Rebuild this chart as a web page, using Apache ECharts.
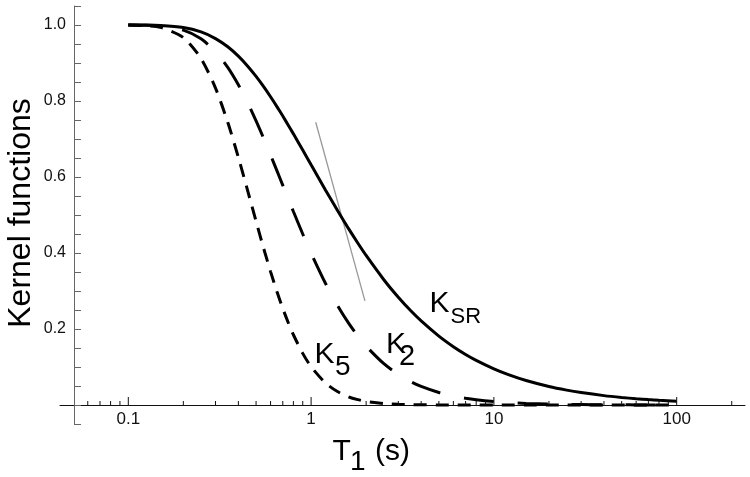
<!DOCTYPE html>
<html>
<head>
<meta charset="utf-8">
<script src="https://cdn.jsdelivr.net/npm/echarts@6/dist/echarts.min.js"></script>
<style>
html,body{margin:0;padding:0;background:#fff;}
#chart{width:750px;height:477px;}
</style>
</head>
<body>
<div id="chart"></div>
<script>
// ---- data ----
const T1 = [0.1,0.12,0.15,0.2,0.25,0.3,0.35,0.4,0.45,0.5,0.55,0.6,0.65,0.7,0.75,0.8,0.9,1,1.2,1.4,1.6,1.8,2,2.5,3,3.5,4,5,6,7,8,10,12,15,20,25,30,40,50,60,70,80,100];
const KSR = [1.0000,0.9998,0.9987,0.9933,0.9817,0.9643,0.9426,0.9179,0.8916,0.8647,0.8377,0.8111,0.7853,0.7604,0.7364,0.7135,0.6708,0.6321,0.5654,0.5105,0.4647,0.4263,0.3935,0.3297,0.2835,0.2485,0.2212,0.1813,0.1535,0.1331,0.1175,0.0952,0.0800,0.0645,0.0488,0.0392,0.0328,0.0247,0.0198,0.0165,0.0142,0.0124,0.0100];
const K2 = [1.0000,0.9995,0.9975,0.9866,0.9637,0.9299,0.8884,0.8426,0.7950,0.7476,0.7017,0.6579,0.6167,0.5781,0.5423,0.5091,0.4500,0.3996,0.3197,0.2606,0.2160,0.1817,0.1548,0.1087,0.0804,0.0618,0.0489,0.0329,0.0236,0.0177,0.0138,0.0091,0.0064,0.0042,0.0024,0.0015,0.0011,0.0006,0.0004,0.0003,0.0002,0.0002,0.0001];
const K5 = [1.0000,0.9988,0.9937,0.9668,0.9117,0.8339,0.7440,0.6517,0.5636,0.4833,0.4124,0.3511,0.2987,0.2541,0.2166,0.1849,0.1358,0.1009,0.0578,0.0347,0.0217,0.0141,0.0094,0.0039,0.0018,0.0010,0.0005,0.0002,0.0001,0,0,0,0,0,0,0,0,0,0,0,0,0,0];
const tangentT1 = [1.06, 1.97];
const tangentK = [0.744, 0.274];
const xMajorTicks = [0.1, 1, 10, 100];
const xTickLabels = ['0.1', '1', '10', '100'];
const xMinorTicks = [0.06,0.07,0.08,0.09,0.2,0.3,0.4,0.5,0.6,0.7,0.8,0.9,2,3,4,5,6,7,8,9,20,30,40,50,60,70,80,90,200];
const yTickValues = [0.2, 0.4, 0.6, 0.8, 1.0];
const yTickLabels = ['0.2', '0.4', '0.6', '0.8', '1.0'];

// ---- chart ----
const FONT = '"Liberation Sans", Arial, sans-serif';
const chart = echarts.init(document.getElementById('chart'), null, {renderer: 'canvas'});

function pairs(xs, ys) { return xs.map((x, i) => [x, ys[i]]); }

function tickSeries(values, len) {
  return {
    type: 'custom',
    silent: true,
    clip: false,
    z: 5,
    data: values.map(v => [v, 0]),
    renderItem: function (params, api) {
      const p = api.coord([api.value(0), 0]);
      return {
        type: 'line',
        shape: {x1: p[0], y1: p[1], x2: p[0], y2: p[1] - len},
        style: {stroke: '#111', lineWidth: 1}
      };
    }
  };
}

function txt(text, x, y, size, extra) {
  return Object.assign({
    type: 'text', x: x, y: y, silent: true,
    style: {text: text, font: size + 'px ' + FONT, fill: '#000', verticalAlign: 'middle', align: 'left'}
  }, extra || {});
}

const option = {
  animation: false,
  backgroundColor: '#fff',
  grid: {left: 60, right: 5, top: 6, bottom: 53, containLabel: false, outerBoundsMode: 'none'},
  xAxis: {
    type: 'log',
    logBase: 10,
    min: 0.0423,
    max: 236.4,
    axisLine: {onZero: true, lineStyle: {color: '#111', width: 1}},
    axisTick: {show: false},
    splitLine: {show: false},
    minorTick: {show: false},
    axisLabel: {
      margin: -13,
      fontSize: 17,
      fontFamily: FONT,
      color: '#111',
      formatter: function (v) {
        for (let i = 0; i < xMajorTicks.length; i++) {
          if (Math.abs(v - xMajorTicks[i]) / xMajorTicks[i] < 1e-6) return xTickLabels[i];
        }
        return '';
      }
    }
  },
  yAxis: {
    type: 'value',
    min: -0.05,
    max: 1.05,
    interval: 0.05,
    offset: -14,
    axisLine: {onZero: false, lineStyle: {color: '#666', width: 1}},
    axisTick: {show: true, inside: true, length: 7, lineStyle: {color: '#666', width: 1}},
    splitLine: {show: false},
    axisLabel: {
      margin: 8,
      fontSize: 16,
      fontFamily: FONT,
      color: '#111',
      formatter: function (v) {
        for (let i = 0; i < yTickValues.length; i++) {
          if (Math.abs(v - yTickValues[i]) < 1e-6) return yTickLabels[i];
        }
        return '';
      }
    }
  },
  series: [
    {
      type: 'line', name: 'KSR', data: pairs(T1, KSR), showSymbol: false, smooth: 0.25,
      lineStyle: {color: '#000', width: 3, type: 'solid'}, z: 3
    },
    {
      type: 'line', name: 'K2', data: pairs(T1, K2), showSymbol: false, smooth: 0.25,
      lineStyle: {color: '#000', width: 3, type: [30, 24], cap: 'butt'}, z: 3
    },
    {
      type: 'line', name: 'K5', data: pairs(T1, K5), showSymbol: false, smooth: 0.25,
      lineStyle: {color: '#000', width: 3, type: [13, 9], cap: 'butt'}, z: 3
    },
    {
      type: 'line', name: 'tangent', data: pairs(tangentT1, tangentK), showSymbol: false,
      lineStyle: {color: '#999', width: 1.3}, z: 2
    },
    tickSeries(xMajorTicks, 8),
    tickSeries(xMinorTicks, 4)
  ],
  graphic: [
    txt('Kernel functions', 21, 213, 32, {rotation: Math.PI / 2, style: {text: 'Kernel functions', font: '32px ' + FONT, fill: '#000', verticalAlign: 'middle', align: 'center'}}),
    txt('K', 429.5, 303.5, 30),
    txt('SR', 450.5, 316.5, 22),
    txt('K', 386, 345, 30),
    txt('2', 399, 357, 29),
    txt('K', 314.5, 355, 30),
    txt('5', 335, 367.5, 28),
    txt('T', 332.5, 452, 30),
    txt('1', 350, 462.5, 28),
    txt('(s)', 375, 452, 30)
  ]
};
chart.setOption(option);
</script>
</body>
</html>
